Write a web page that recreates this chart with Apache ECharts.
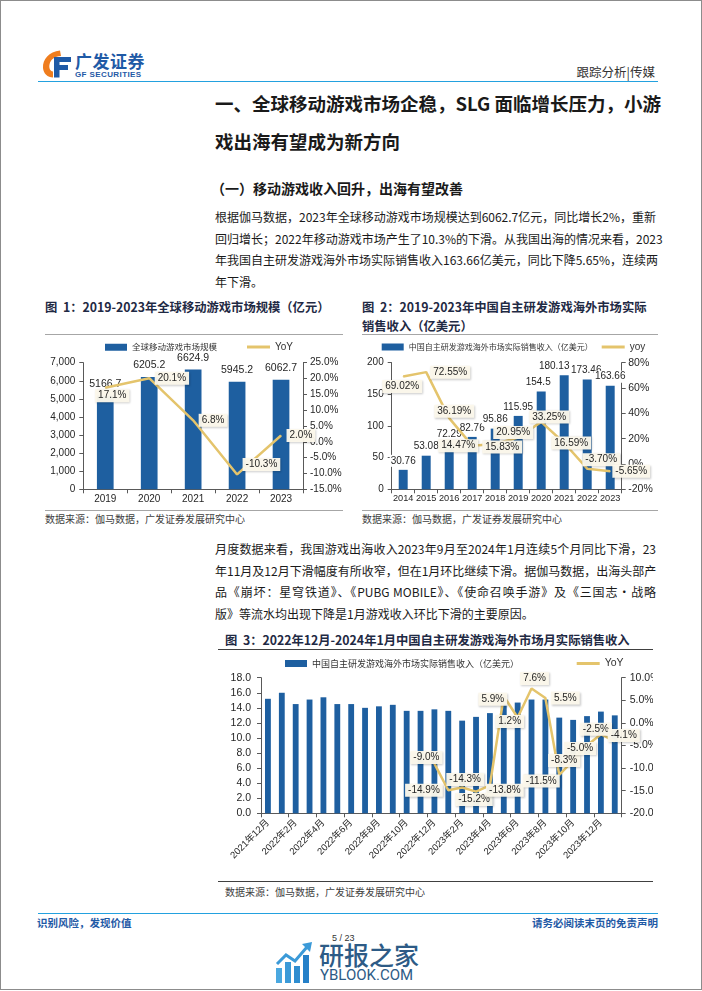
<!DOCTYPE html>
<html lang="zh-CN">
<head>
<meta charset="utf-8">
<title>跟踪分析 传媒</title>
<script src="https://cdn.jsdelivr.net/npm/echarts@6.0.0/dist/echarts.min.js"></script>
<style>
html,body{margin:0;padding:0;background:#fff;}
body{width:702px;height:991px;position:relative;overflow:hidden;font-family:"Noto Sans CJK SC","Noto Sans",sans-serif;color:#1a1a1a;}
.t{position:absolute;white-space:nowrap;}
.j{position:absolute;white-space:nowrap;text-align:justify;text-align-last:justify;}
.ln{position:absolute;height:0;}
.chart{position:absolute;}
.body{font-size:12px;line-height:18px;color:#1a1a1a;}
.ft{font-size:12.3px;line-height:16px;font-weight:bold;color:#1f2a44;}
.src{font-size:10px;line-height:14px;color:#404040;}
</style>
</head>
<body>
<div style="position:absolute;left:0;top:0;width:702px;height:990px;border:1px solid #8c8c8c;box-sizing:border-box;"></div>

<!-- header -->
<svg class="t" style="left:41px;top:50px" width="31" height="28" viewBox="0 0 31 28">
  <path d="M19 0.5 C8 2 1.5 9 2 18 C2.5 23.5 6.5 27.5 12 27.5 L12 21.5 C9 21 7.8 18 8.5 14.5 C9.8 9 13.5 6.5 20 6 Z" fill="#ef7d1e"/>
  <path d="M13 7 H30 V12 H18.5 V15 H27 V20 H18.5 V27.5 H13 Z" fill="#1f5aa6"/>
</svg>
<div class="t" style="left:75px;top:50px;font-size:17px;line-height:22px;font-weight:bold;color:#1f5aa6;letter-spacing:0.5px">广发证券</div>
<div class="t" style="left:75px;top:70px;font-size:8px;line-height:10px;font-weight:bold;color:#1f5aa6;font-family:Arial,'Liberation Sans';letter-spacing:0.4px">GF SECURITIES</div>
<div class="t" style="right:47px;top:63px;font-size:12.5px;line-height:18px;color:#333">跟踪分析|传媒</div>
<div class="ln" style="left:38px;top:81px;width:620px;border-top:1.5px solid #23a1df"></div>

<!-- headings -->
<div class="j" style="left:215px;top:91px;width:441px;font-size:18.5px;line-height:24px;font-weight:bold">一、全球移动游戏市场企稳，SLG 面临增长压力，小游</div>
<div class="t" style="left:215px;top:129px;font-size:18.5px;line-height:24px;font-weight:bold">戏出海有望成为新方向</div>
<div class="t" style="left:211px;top:178px;font-size:14px;line-height:20px;font-weight:bold">（一）移动游戏收入回升，出海有望改善</div>

<div class="j body" style="left:215px;top:208px;width:441px">根据伽马数据，2023年全球移动游戏市场规模达到6062.7亿元，同比增长2%，重新</div>
<div class="j body" style="left:215px;top:229.5px;width:441px">回归增长；2022年移动游戏市场产生了10.3%的下滑。从我国出海的情况来看，2023</div>
<div class="j body" style="left:215px;top:251px;width:441px">年我国自主研发游戏海外市场实际销售收入163.66亿美元，同比下降5.65%，连续两</div>
<div class="t body" style="left:215px;top:272.5px">年下滑。</div>

<!-- figure 1 / 2 titles -->
<div class="t ft" style="left:45px;top:298.7px">图&nbsp;&nbsp;1：2019-2023年全球移动游戏市场规模（亿元）</div>
<div class="t ft" style="left:362px;top:298.7px">图&nbsp;&nbsp;2：2019-2023年中国自主研发游戏海外市场实际</div>
<div class="t ft" style="left:362px;top:317.7px">销售收入（亿美元）</div>
<div class="ln" style="left:45px;top:334px;width:298px;border-top:1px solid #a6a6a6"></div>
<div class="ln" style="left:362px;top:334px;width:296px;border-top:1px solid #a6a6a6"></div>
<div class="ln" style="left:45px;top:510px;width:298px;border-top:1px solid #a6a6a6"></div>
<div class="ln" style="left:362px;top:510px;width:296px;border-top:1px solid #a6a6a6"></div>
<div class="t src" style="left:45px;top:511.5px">数据来源：伽马数据，广发证券发展研究中心</div>
<div class="t src" style="left:362px;top:511.5px">数据来源：伽马数据，广发证券发展研究中心</div>

<div id="c1" class="chart" style="left:36px;top:336px;width:312px;height:180px"></div>
<div id="c2" class="chart" style="left:360px;top:336px;width:300px;height:180px"></div>

<!-- paragraph 2 -->
<div class="j body" style="left:215px;top:540px;width:441px">月度数据来看，我国游戏出海收入2023年9月至2024年1月连续5个月同比下滑，23</div>
<div class="j body" style="left:215px;top:561.5px;width:441px">年11月及12月下滑幅度有所收窄，但在1月环比继续下滑。据伽马数据，出海头部产</div>
<div class="j body" style="left:215px;top:583px;width:441px">品《崩坏：星穹铁道》、《PUBG MOBILE》、《使命召唤手游》及《三国志·战略</div>
<div class="t body" style="left:215px;top:604.5px">版》等流水均出现下降是1月游戏收入环比下滑的主要原因。</div>

<!-- figure 3 -->
<div class="t ft" style="left:225px;top:632px">图&nbsp;&nbsp;3：2022年12月-2024年1月中国自主研发游戏海外市场月实际销售收入</div>
<div class="ln" style="left:218px;top:649px;width:435px;border-top:1px solid #404040"></div>
<div id="c3" class="chart" style="left:218px;top:655px;width:435px;height:225px"></div>
<div class="ln" style="left:218px;top:881px;width:435px;border-top:1.5px solid #404040"></div>
<div class="t src" style="left:225px;top:884.7px">数据来源：伽马数据，广发证券发展研究中心</div>

<!-- footer -->
<div class="ln" style="left:38px;top:913px;width:620px;border-top:1.5px solid #23a1df"></div>
<div class="t" style="left:37px;top:916px;font-size:10.5px;line-height:14px;color:#1f5aa6;font-weight:bold">识别风险，发现价值</div>
<div class="t" style="right:44px;top:916px;font-size:10.5px;line-height:14px;color:#1f5aa6;font-weight:bold">请务必阅读末页的免责声明</div>
<div class="t" style="left:332px;top:932px;font-size:9px;line-height:12px;color:#333;font-family:Arial,'Liberation Sans'">5 / 23</div>
<svg class="t" style="left:275px;top:941px" width="38" height="42" viewBox="0 0 38 42">
  <rect x="1" y="27" width="6" height="15" fill="#4aa8e0"/>
  <rect x="10" y="21" width="6" height="21" fill="#3b9ad8"/>
  <rect x="19" y="25" width="6" height="17" fill="#2f8dd0"/>
  <rect x="28" y="14" width="6" height="28" fill="#2680c8"/>
  <polyline points="2,23 11,14 20,20 32,6" fill="none" stroke="#3b9ad8" stroke-width="3"/>
  <polygon points="27,3 37,1 35,11" fill="#3b9ad8"/>
</svg>
<div class="t" style="left:319px;top:939px;font-size:25px;line-height:30px;color:#2d5b86;font-weight:500">研报之家</div>
<div class="t" style="left:320px;top:966px;font-size:15px;line-height:18px;color:#2d5b86;font-family:Roboto,Arial,sans-serif">YBLOOK.COM</div>

<script>
// ---------- data ----------
const fig1Years = ['2019', '2020', '2021', '2022', '2023'];
const fig1Scale = [5166.7, 6205.2, 6624.9, 5945.2, 6062.7];
const fig1YoY = [17.1, 20.1, 6.8, -10.3, 2.0];

const fig2Years = ['2014', '2015', '2016', '2017', '2018', '2019', '2020', '2021', '2022', '2023'];
const fig2Revenue = [30.76, 53.08, 72.29, 82.76, 95.86, 115.95, 154.5, 180.13, 173.46, 163.66];
const fig2YoY = [69.02, 72.55, 36.19, 14.47, 15.83, 20.95, 33.25, 16.59, -3.70, -5.65];

const fig3Months = ['2021年12月', '2022年1月', '2022年2月', '2022年3月', '2022年4月', '2022年5月', '2022年6月',
  '2022年7月', '2022年8月', '2022年9月', '2022年10月', '2022年11月', '2022年12月', '2023年1月', '2023年2月',
  '2023年3月', '2023年4月', '2023年5月', '2023年6月', '2023年7月', '2023年8月', '2023年9月', '2023年10月',
  '2023年11月', '2023年12月', '2024年1月'];
const fig3Revenue = [15.2, 16.0, 14.5, 15.1, 15.4, 14.5, 14.5, 14.0, 14.2, 14.4, 13.6, 13.6, 13.8, 13.6, 12.3,
  12.8, 13.3, 14.5, 14.7, 15.1, 15.1, 12.7, 12.4, 12.9, 13.5, 13.0];
const fig3YoY = [null, null, null, null, null, null, null, null, null, null, null, null,
  -9.0, -14.9, -14.3, -15.2, -13.8, 5.9, 1.2, 7.6, 5.5, -11.5, -8.3, -5.0, -2.5, -4.1];

// ---------- label placement (style only): [position, dx, dy] ----------
const fig1LabelPlaces = [['inside', 7, 8], ['right', 0, 0], ['right', 0, 0], ['right', 0, -10], ['right', 0, 0]];
const fig2LabelPlaces = [['inside', -1, 10], ['inside', 24, 0], ['inside', 5, -7], ['inside', -14, 0], ['inside', 7, 3],
  ['inside', -5, -5], ['inside', 8, -5], ['inside', 7, 0], ['inside', 14, -9], ['inside', 21, 0]];
const fig2BarLabelShift = [0, 0, 0, 0, 0, 0, -3, -10, -1, 0];
const fig3LabelPlaces = Array(12).fill(null).concat([['inside', -8, -6], ['left', 0, 0], ['inside', 3, -8], ['inside', -2, 8],
  ['inside', 15, 5], ['inside', -11, 3], ['inside', -8, 4], ['inside', 3, -10], ['right', 0, 0], ['inside', -18, 6],
  ['inside', -9, 0], ['inside', -7, 3], ['inside', -5, -5], ['inside', 9, -6]]);

const BLUE = '#1e5fa0';
const GOLD = '#e4c46c';
const AX = '#595959';
const NUMFONT = 'Arial, "Liberation Sans", sans-serif';
const CJK = '"Noto Sans CJK SC", sans-serif';

function withLabels(values, places) {
  return values.map((v, i) => v == null ? null : ({
    value: v,
    label: { position: places[i][0] }
  }));
}
const lineLabelBox = {
  show: true, color: '#262626', fontSize: 10, fontFamily: NUMFONT,
  backgroundColor: 'rgba(252,248,235,0.96)', padding: [2, 3, 1, 3],
  shadowColor: 'rgba(0,0,0,0.22)', shadowBlur: 2, shadowOffsetX: 1, shadowOffsetY: 1
};
function axisBase() {
  return {
    axisLine: { show: true, onZero: false, lineStyle: { color: AX, width: 1 } },
    axisTick: { show: true, length: 4, inside: false, lineStyle: { color: AX, width: 1 } },
    splitLine: { show: false }
  };
}
function legends(barName, barLeft, barTop, barFont, lineName, lineLeft, lineTop, lineFont) {
  return [
    { data: [barName], left: barLeft, top: barTop, padding: 0, itemWidth: 22, itemHeight: 7, icon: 'rect',
      selectedMode: false, textStyle: { fontSize: barFont, color: '#333', fontFamily: CJK } },
    { data: [lineName], left: lineLeft, top: lineTop, padding: 0, itemWidth: 23, itemHeight: 3, icon: 'rect',
      selectedMode: false, textStyle: { fontSize: lineFont, color: '#333', fontFamily: NUMFONT } }
  ];
}
function lineSeries(name, values, places, fmt) {
  return {
    name: name, type: 'line', yAxisIndex: 1, data: withLabels(values, places),
    symbol: 'circle', symbolSize: 1, showSymbol: true, connectNulls: false,
    lineStyle: { color: GOLD, width: 2.5 }, itemStyle: { color: GOLD }, z: 3,
    labelLayout: function (p) {
      const pl = places[p.dataIndex];
      return pl ? { dx: pl[1], dy: pl[2], hideOverlap: false } : {};
    },
    label: Object.assign({}, lineLabelBox, { formatter: fmt })
  };
}

// ---------- figure 1 ----------
const c1 = echarts.init(document.getElementById('c1'), null, { renderer: 'canvas' });
c1.setOption({
  animation: false,
  grid: { left: 47.3, right: 45, top: 26.7, bottom: 26.7, containLabel: false, outerBoundsMode: 'none' },
  legend: legends('全球移动游戏市场规模', 69, 7, 8.5, 'YoY', 211, 6, 10),
  xAxis: Object.assign(axisBase(), {
    type: 'category', data: fig1Years, boundaryGap: true,
    axisTick: { show: true, length: 4, alignWithLabel: false, lineStyle: { color: AX } },
    axisLabel: { fontSize: 10, color: '#262626', fontFamily: NUMFONT, margin: 5 }
  }),
  yAxis: [
    Object.assign(axisBase(), {
      type: 'value', min: 0, max: 7000, interval: 1000,
      axisLabel: { fontSize: 10, color: '#262626', fontFamily: NUMFONT, margin: 8,
        formatter: v => v.toLocaleString('en-US') }
    }),
    Object.assign(axisBase(), {
      type: 'value', min: -15, max: 25, interval: 5, position: 'right',
      axisLabel: { fontSize: 10, color: '#262626', fontFamily: NUMFONT, margin: 7,
        formatter: v => v.toFixed(1) + '%' }
    })
  ],
  series: [
    { name: '全球移动游戏市场规模', type: 'bar', data: fig1Scale, barWidth: '38%',
      itemStyle: { color: BLUE },
      label: { show: true, position: 'top', distance: 5, formatter: p => p.value.toFixed(1), fontSize: 10.5,
        color: '#262626', fontFamily: NUMFONT, backgroundColor: '#fff', padding: [1, 2] } },
    lineSeries('YoY', fig1YoY, fig1LabelPlaces, p => p.value.toFixed(1) + '%')
  ]
});

// ---------- figure 2 ----------
const c2 = echarts.init(document.getElementById('c2'), null, { renderer: 'canvas' });
c2.setOption({
  animation: false,
  grid: { left: 31.7, right: 38.3, top: 26.7, bottom: 26.7, containLabel: false, outerBoundsMode: 'none' },
  legend: legends('中国自主研发游戏海外市场实际销售收入（亿美元）', 21.7, 7, 8, 'yoy', 241.7, 6, 10),
  xAxis: Object.assign(axisBase(), {
    type: 'category', data: fig2Years, boundaryGap: true,
    axisTick: { show: true, length: 4, alignWithLabel: false, lineStyle: { color: AX } },
    axisLabel: { fontSize: 9.2, color: '#262626', fontFamily: NUMFONT, margin: 5, interval: 0 }
  }),
  yAxis: [
    Object.assign(axisBase(), {
      type: 'value', min: 0, max: 200, interval: 50,
      axisLabel: { fontSize: 10, color: '#262626', fontFamily: NUMFONT, margin: 8 }
    }),
    Object.assign(axisBase(), {
      type: 'value', min: -20, max: 80, interval: 20, position: 'right',
      axisLabel: { fontSize: 10.5, color: '#262626', fontFamily: NUMFONT, margin: 6.5, formatter: v => v + '%' }
    })
  ],
  series: [
    { name: '中国自主研发游戏海外市场实际销售收入（亿美元）', type: 'bar', data: fig2Revenue, barWidth: '39%',
      itemStyle: { color: BLUE },
      labelLayout: p => ({ dx: fig2BarLabelShift[p.dataIndex], dy: 2, hideOverlap: false }),
      label: { show: true, position: 'top', distance: 5, fontSize: 10, color: '#262626', fontFamily: NUMFONT,
        backgroundColor: '#fff', padding: [1, 1] } },
    lineSeries('yoy', fig2YoY, fig2LabelPlaces, p => p.value.toFixed(2) + '%')
  ]
});

// ---------- figure 3 ----------
const c3 = echarts.init(document.getElementById('c3'), null, { renderer: 'canvas' });
c3.setOption({
  animation: false,
  grid: { left: 43, right: 31.3, top: 22.7, bottom: 66.7, containLabel: false, outerBoundsMode: 'none' },
  legend: legends('中国自主研发游戏海外市场实际销售收入（亿美元）', 67, 4, 9, 'YoY', 358.7, 3, 10.5),
  xAxis: Object.assign(axisBase(), {
    type: 'category', data: fig3Months, boundaryGap: true,
    axisTick: { show: true, length: 4, interval: 1, alignWithLabel: false, lineStyle: { color: AX } },
    axisLabel: { fontSize: 9.5, color: '#262626', fontFamily: NUMFONT + ', ' + CJK, margin: 8, rotate: 45, interval: 1 }
  }),
  yAxis: [
    Object.assign(axisBase(), {
      type: 'value', min: 0, max: 18, interval: 2,
      axisLabel: { fontSize: 10.5, color: '#262626', fontFamily: NUMFONT, margin: 10, formatter: v => v.toFixed(1) }
    }),
    Object.assign(axisBase(), {
      type: 'value', min: -20, max: 10, interval: 5, position: 'right',
      axisLabel: { fontSize: 10.5, color: '#262626', fontFamily: NUMFONT, margin: 8, formatter: v => v.toFixed(1) + '%' }
    })
  ],
  series: [
    { name: '中国自主研发游戏海外市场实际销售收入（亿美元）', type: 'bar', data: fig3Revenue, barWidth: '42%',
      itemStyle: { color: BLUE } },
    lineSeries('YoY', fig3YoY, fig3LabelPlaces, p => p.value.toFixed(1) + '%')
  ]
});
</script>
</body>
</html>
